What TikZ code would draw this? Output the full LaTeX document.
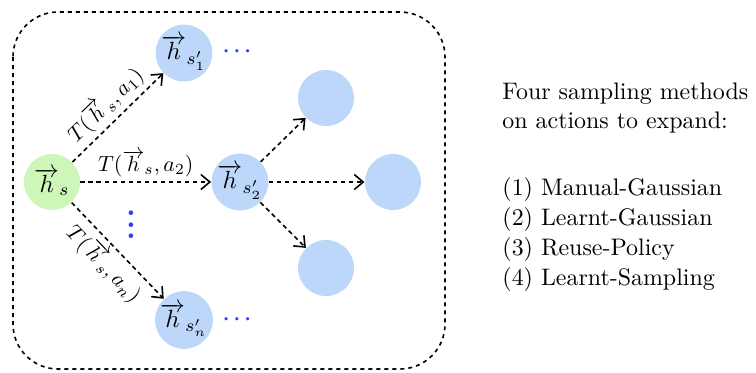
\documentclass[tikz,border=0pt]{standalone}
\usepackage{tikz}
\usetikzlibrary{arrows.meta}
\definecolor{rootGreen}{HTML}{CCF7B9}
\definecolor{stateBlue}{HTML}{BDD7FA}
\definecolor{dotBlue}{HTML}{2B3BFF}

\begin{document}
\begin{tikzpicture}[x=1bp, y=-1bp, >={Straight Barb[length=9bp,width=15bp]},
    state/.style={circle, fill=stateBlue, minimum size=22.4bp, inner sep=0pt,
        scale=2.5, transform shape},
    trans/.style={->, line width=1.6bp, dash pattern=on 4.5bp off 3.5bp},
    tlabel/.style={sloped, inner sep=1.5bp, scale=2.2, transform shape},
    more/.style={text=dotBlue, font=\bfseries\boldmath, scale=2.1, transform shape}]

    \useasboundingbox (0,0) rectangle (756,372);

    % dashed frame round the search tree
    \draw[line width=1.6bp, dash pattern=on 4bp off 4bp, rounded corners=45bp]
        (13,12) rectangle (445,369);

    % states
    \node[state, fill=rootGreen] (hs) at (52,182) {$\overrightarrow{h}_{s}$};
    \node[state] (h1) at (184,53) {$\overrightarrow{h}_{s'_1}$};
    \node[state] (h2) at (240,182) {$\overrightarrow{h}_{s'_2}$};
    \node[state] (hn) at (184,320) {$\overrightarrow{h}_{s'_n}$};
    \node[state] (c1) at (326,98) {};
    \node[state] (c2) at (393,182) {};
    \node[state] (c3) at (326,268) {};

    % transitions from the root
    \draw[trans] (hs) -- node[tlabel, above] {$T(\overrightarrow{h}_{s}, a_1)$} (h1);
    \draw[trans] (hs) -- node[tlabel, above] {$T(\overrightarrow{h}_{s}, a_2)$} (h2);
    \draw[trans] (hs) -- node[tlabel, below] {$T(\overrightarrow{h}_{s}, a_n)$} (hn);

    % expansion of the second child
    \foreach \c in {c1,c2,c3} {
        \draw[trans] (h2) -- (\c);
    }

    % elided states
    \node[more] (m1) at (237,52) {$\cdots$};
    \node[more, scale=1.4] (m2) at (131,216) {$\vdots$};
    \node[more] (mn) at (237,320) {$\cdots$};

    % sampling methods
    \node[anchor=north west, inner sep=0pt, align=left, scale=2.4, transform shape,
        font=\fontsize{10}{12.5}\selectfont] (methods) at (502,82)
        {Four sampling methods\\on actions to expand:\\[15.4pt]
         (1) Manual-Gaussian\\(2) Learnt-Gaussian\\(3) Reuse-Policy\\(4) Learnt-Sampling};

\end{tikzpicture}
\end{document}
